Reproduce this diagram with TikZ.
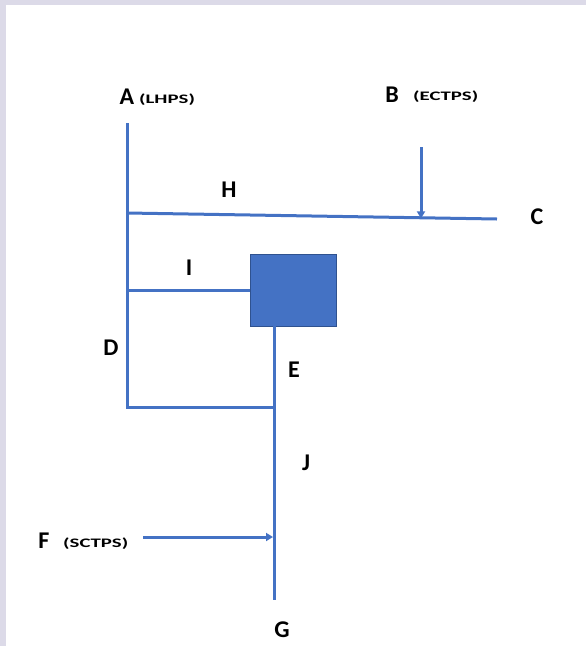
\documentclass[tikz,border=0pt]{standalone}
\usepackage{fontspec}
\setmainfont{Carlito}
\usetikzlibrary{arrows.meta}
\definecolor{pipe}{HTML}{4472C4}
\definecolor{pipedark}{HTML}{2F528F}
\definecolor{frame}{HTML}{DCDAE8}
\newcommand{\tagtext}[1]{\scalebox{1.6}[1]{#1}}
\begin{document}
\begin{tikzpicture}[x=1pt,y=-1pt,
  pipeline/.style={draw=pipe,line width=3pt},
  flow/.style={pipeline,-{Triangle[length=7pt,width=8pt]}},
  big/.style={font=\bfseries\fontsize{24}{24}\selectfont,inner sep=0pt},
  tag/.style={font=\bfseries\fontsize{13}{13}\selectfont,inner sep=0pt,anchor=west},
  block/.style={draw=pipedark,line width=1pt,fill=pipe,minimum width=86pt,minimum height=72pt,inner sep=0pt}]
\useasboundingbox (0,0) rectangle (586,646);
\fill[frame] (0,0) rectangle (586,5);
\fill[frame] (0,0) rectangle (6,646);
% labels
\node[big] (A) at (127,97) {A};
\node[tag] (Atag) at (139,100) {\tagtext{(LHPS)}};
\node[big] (B) at (392,95) {B};
\node[tag] (Btag) at (413,97) {\tagtext{(ECTPS)}};
\node[big] (C) at (537,217) {C};
\node[big] (H) at (229,190) {H};
\node[big] (I) at (189,268) {I};
\node[big] (D) at (111,348) {D};
\node[big] (E) at (294,370) {E};
\node[big] (J) at (306,463) {J};
\node[big] (F) at (44,541) {F};
\node[tag] (Ftag) at (63,544) {\tagtext{(SCTPS)}};
\node[big] (G) at (282,630) {G};
% block
\node[block] (sq) at (293,290) {};
% coordinates
\coordinate (a0) at (127,123);
\coordinate (a1) at (127,213);
\coordinate (a2) at (127,290);
\coordinate (a3) at (127,407);
\coordinate (c0) at (497,219);
\coordinate (b0) at (421,147);
\coordinate (b1) at (421,218.4);
\coordinate (e0) at (274,326);
\coordinate (e1) at (274,407);
\coordinate (g0) at (274,600);
\coordinate (f0) at (143,537);
\coordinate (f1) at (273,537);
% pipes
\draw[pipeline] (a0) -- (a3) -- (e1);
\draw[pipeline] (a1) -- (c0);
\draw[pipeline] (a2) -- (sq.west);
\draw[pipeline] (e0) -- (g0);
\draw[flow] (b0) -- (b1);
\draw[flow] (f0) -- (f1);
\end{tikzpicture}
\end{document}
